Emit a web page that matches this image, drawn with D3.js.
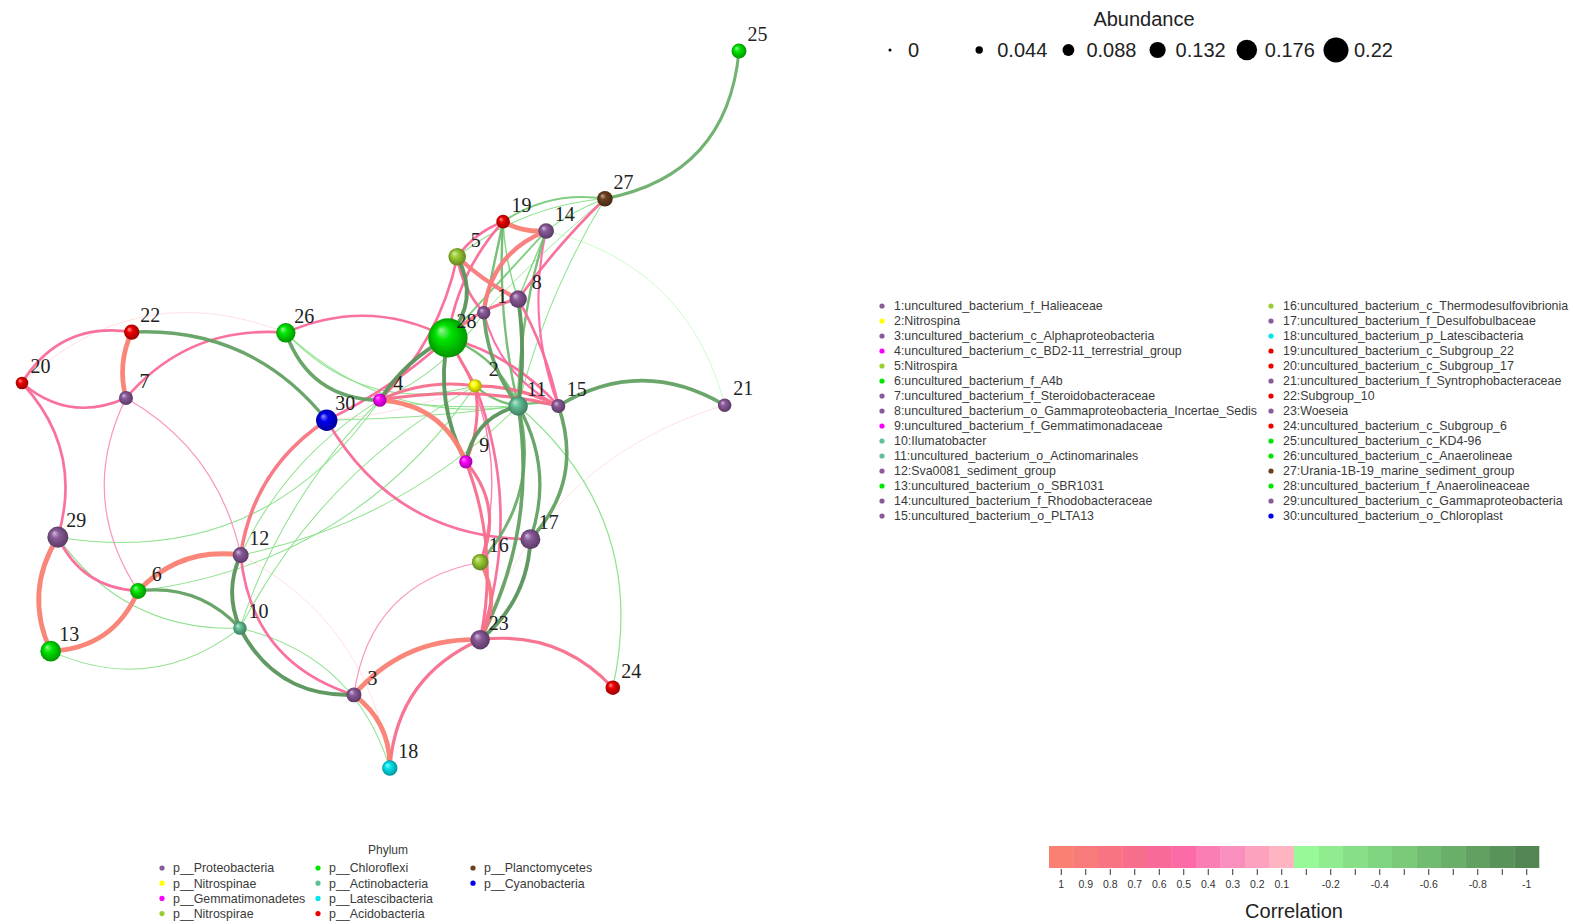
<!DOCTYPE html>
<html>
<head>
<meta charset="utf-8">
<script src="https://cdn.jsdelivr.net/npm/d3@7"></script>
<style>
  body { margin: 0; background: #fff; }
  svg { display: block; }
  text { font-family: "Liberation Sans", Arial, sans-serif; }
</style>
</head>
<body>
<svg id="chart" width="1573" height="924"></svg>
<script>
// ---- data -------------------------------------------------------------
const taxa = [
  "uncultured_bacterium_f_Halieaceae", "Nitrospina",
  "uncultured_bacterium_c_Alphaproteobacteria", "uncultured_bacterium_c_BD2-11_terrestrial_group",
  "Nitrospira", "uncultured_bacterium_f_A4b", "uncultured_bacterium_f_Steroidobacteraceae",
  "uncultured_bacterium_o_Gammaproteobacteria_Incertae_Sedis", "uncultured_bacterium_f_Gemmatimonadaceae",
  "Ilumatobacter", "uncultured_bacterium_o_Actinomarinales", "Sva0081_sediment_group",
  "uncultured_bacterium_o_SBR1031", "uncultured_bacterium_f_Rhodobacteraceae",
  "uncultured_bacterium_o_PLTA13", "uncultured_bacterium_c_Thermodesulfovibrionia",
  "uncultured_bacterium_f_Desulfobulbaceae", "uncultured_bacterium_p_Latescibacteria",
  "uncultured_bacterium_c_Subgroup_22", "uncultured_bacterium_c_Subgroup_17",
  "uncultured_bacterium_f_Syntrophobacteraceae", "Subgroup_10", "Woeseia",
  "uncultured_bacterium_c_Subgroup_6", "uncultured_bacterium_c_KD4-96",
  "uncultured_bacterium_c_Anaerolineae", "Urania-1B-19_marine_sediment_group",
  "uncultured_bacterium_f_Anaerolineaceae", "uncultured_bacterium_c_Gammaproteobacteria",
  "uncultured_bacterium_o_Chloroplast"
];

const phyla = [
  "p__Proteobacteria", "p__Nitrospinae", "p__Gemmatimonadetes", "p__Nitrospirae",
  "p__Chloroflexi", "p__Actinobacteria", "p__Latescibacteria", "p__Acidobacteria",
  "p__Planctomycetes", "p__Cyanobacteria"
];

// phylum index of taxa 1..30
const taxonPhylum = [0,1,0,2,3,4,0,0,2,5, 5,0,4,0,0,3,0,6,7,7, 0,7,0,7,4,4,8,4,0,9];

// relative abundance of taxa 1..30
const abundance = [
  0.018, 0.018, 0.030, 0.018, 0.050, 0.038, 0.023, 0.049, 0.018, 0.018,
  0.064, 0.038, 0.073, 0.035, 0.023, 0.042, 0.068, 0.033, 0.020, 0.012,
  0.018, 0.033, 0.064, 0.027, 0.030, 0.064, 0.035, 0.215, 0.076, 0.079
];

// network layout (unit square) of taxa 1..30
const layoutX = [
  0.644, 0.632, 0.463, 0.499, 0.607, 0.162, 0.145, 0.692, 0.619, 0.304,
  0.692, 0.305, 0.040, 0.731, 0.748, 0.639, 0.709, 0.513, 0.671, 0.000,
  0.980, 0.153, 0.639, 0.824, 1.000, 0.368, 0.813, 0.594, 0.050, 0.425
];
const layoutY = [
  0.365, 0.467, 0.898, 0.487, 0.287, 0.753, 0.484, 0.346, 0.573, 0.805,
  0.495, 0.703, 0.837, 0.251, 0.495, 0.713, 0.681, 1.000, 0.238, 0.463,
  0.494, 0.392, 0.821, 0.888, 0.000, 0.393, 0.206, 0.400, 0.678, 0.515
];

// correlations: [taxon a, taxon b, Spearman r]
const links = [
  [20,22,0.65],[20,7,0.65],[20,29,0.65],[20,26,0.12],[22,7,0.98],[22,30,-0.75],
  [7,26,0.65],[7,6,0.35],[7,12,0.35],[26,28,0.65],[26,4,-0.8],[26,2,-0.3],[26,11,-0.3],
  [30,12,0.8],[30,17,0.65],[30,28,0.65],[30,11,-0.3],[30,2,0.12],
  [29,13,0.98],[29,6,0.65],[29,10,-0.3],[29,4,-0.3],[13,6,0.98],[13,10,-0.3],
  [6,12,0.98],[6,10,-0.75],[6,2,-0.3],[12,10,-0.85],[12,3,0.65],[12,18,0.12],[12,11,-0.3],
  [10,3,-0.85],[10,18,-0.3],[10,4,-0.3],[3,18,0.98],[3,23,0.98],[18,23,0.75],[23,24,0.72],
  [16,23,0.85],[3,16,0.35],[17,23,-0.85],[15,17,-0.8],[11,23,-0.8],[11,17,-0.75],
  [11,16,-0.7],[11,24,-0.35],[23,21,0.12],[15,21,-0.8],[14,21,-0.15],
  [27,25,-0.7],[27,8,0.65],[27,11,-0.3],[27,14,-0.3],[19,27,-0.5],[5,27,-0.3],[27,1,-0.25],
  [19,14,0.98],[5,19,0.65],[14,1,0.92],[5,8,0.92],[5,28,-0.85],[5,1,0.65],[5,4,0.65],
  [19,28,0.65],[19,1,-0.6],[19,11,-0.6],[14,11,-0.6],[14,28,-0.5],[28,8,0.72],
  [1,11,-0.8],[8,11,-0.85],[8,15,0.65],[14,15,0.55],[1,15,0.55],[28,11,-0.6],
  [28,2,0.72],[28,9,-0.85],[28,4,-0.85],[28,15,0.65],[4,9,0.98],[4,2,0.72],[4,15,0.72],
  [4,11,-0.3],[4,1,-0.3],[2,9,0.72],[2,15,0.75],[2,11,-0.6],[9,11,-0.85],[9,16,0.72],
  [9,23,0.72],[2,23,0.65],[28,16,0.4],[4,12,-0.3],[15,11,-0.6],[19,8,-0.4],[14,8,-0.4],
  [2,10,-0.3]
];
// edge curvature (signed, fraction of edge length)
const linkBend = [
  -0.22,0.21,-0.19,-0.21,0.12,-0.17,
  -0.17,0.19,-0.15,-0.16,0.23,0.2,0.16,
  0.15,0.19,0.05,0.02,0.05,
  0.18,0.2,0.18,0.21,0.21,0.2,
  -0.17,-0.17,0.15,0.15,0.22,-0.17,0.1,
  0.21,-0.19,-0.08,-0.17,-0.16,-0.2,-0.17,
  -0.19,-0.24,-0.15,-0.2,-0.11,-0.15,
  -0.18,-0.2,-0.17,-0.2,-0.2,
  0.25,0.03,0.05,0.05,-0.13,-0.1,0.02,
  0.1,-0.1,0.2,0.05,-0.23,0.1,-0.1,
  0.1,0,0.05,0.05,0,-0.1,
  0.1,-0.05,-0.05,0.1,0.15,-0.15,
  0,0.12,0.09,-0.1,-0.21,-0.1,-0.07,
  0.03,0.1,-0.1,-0.08,0.1,-0.21,-0.21,
  -0.1,-0.12,-0.15,0.1,0.1,0.05,0,
  0.1
];

const sizeTicks = [0, 0.044, 0.088, 0.132, 0.176, 0.22];
const corrBins = [1,0.9,0.8,0.7,0.6,0.5,0.4,0.3,0.2,0.1,-0.1,-0.2,-0.3,-0.4,-0.5,-0.6,-0.7,-0.8,-0.9,-1];
const corrTickLabels = ["1","0.9","0.8","0.7","0.6","0.5","0.4","0.3","0.2","0.1",
                        "","-0.2","","-0.4","","-0.6","","-0.8","","-1"];

// ---- palette ----------------------------------------------------------
const phylumColors = ["#8a5a9a","#ffff00","#ff00ff","#9acd32","#00e600",
                      "#62c096","#00e5ee","#ee0000","#6b3f1f","#0000ee"];
const corrColors = ["#fa8072","#f97a7a","#f87482","#f76e8c","#f96a98",
                    "#fc6ba6","#fa7db3","#f98fbd","#fca2bf","#ffb4c2",
                    "#98f998","#8fec8f","#87e087","#80d580","#7aca7a",
                    "#72bc72","#6aae6a","#62a062","#5a935a","#538653"];

const corrIndex = r => r > 0
  ? Math.max(0, Math.min(9, Math.round((1 - r) * 10)))
  : 10 + Math.max(0, Math.min(9, Math.round((-r - 0.1) * 10)));

// ---- drawing ----------------------------------------------------------
const svg = d3.select("#chart");
const defs = svg.append("defs");

phylumColors.forEach((c, i) => {
  const g = defs.append("radialGradient").attr("id", "sphere" + i)
    .attr("cx", "50%").attr("cy", "50%").attr("r", "55%")
    .attr("fx", "32%").attr("fy", "30%");
  g.append("stop").attr("offset", "0%").attr("stop-color", d3.interpolateRgb(c, "#ffffff")(0.6));
  g.append("stop").attr("offset", "35%").attr("stop-color", c);
  g.append("stop").attr("offset", "100%").attr("stop-color", d3.color(c).darker(1.4));
});

const x = d3.scaleLinear().domain([0, 1]).range([22, 739]);
const y = d3.scaleLinear().domain([0, 1]).range([51, 768]);
const nodeR = d3.scaleLinear().domain([0, 0.22]).range([5.5, 20]);
const legendR = d3.scaleLinear().domain([0, 0.22]).range([1.5, 12.5]);
const edgeW = d3.scalePow().exponent(1.5).domain([0, 1]).range([0.25, 4.9]);

const nodes = taxa.map((name, i) => ({
  id: i + 1, name, phylum: taxonPhylum[i], abundance: abundance[i],
  x: x(layoutX[i]), y: y(layoutY[i])
}));

function linkPath(a, b, bend) {
  const dx = b.x - a.x, dy = b.y - a.y, L = Math.hypot(dx, dy);
  const nx = -dy / L, ny = dx / L, off = bend * L;
  const p = d3.path();
  p.moveTo(a.x, a.y);
  p.bezierCurveTo(a.x + dx / 3 + nx * off, a.y + dy / 3 + ny * off,
                  a.x + 2 * dx / 3 + nx * off, a.y + 2 * dy / 3 + ny * off,
                  b.x, b.y);
  return p.toString();
}

const edges = links.map((l, i) => ({ s: nodes[l[0] - 1], t: nodes[l[1] - 1], r: l[2], bend: linkBend[i] }))
  .sort((a, b) => Math.abs(a.r) - Math.abs(b.r));

const net = svg.append("g");
net.append("g").selectAll("path").data(edges).join("path")
  .attr("d", d => linkPath(d.s, d.t, d.bend))
  .attr("fill", "none")
  .attr("stroke", d => corrColors[corrIndex(d.r)])
  .attr("stroke-width", d => edgeW(Math.abs(d.r)))
  .attr("stroke-linecap", "round")
  .attr("stroke-opacity", 0.95);

net.append("g").selectAll("circle").data(nodes).join("circle")
  .attr("cx", d => d.x).attr("cy", d => d.y)
  .attr("r", d => nodeR(d.abundance))
  .attr("fill", d => `url(#sphere${d.phylum})`);

net.append("g").selectAll("text").data(nodes).join("text")
  .attr("x", d => d.x + 18.5).attr("y", d => d.y - 10)
  .attr("text-anchor", "middle")
  .style("font-family", "'Liberation Serif','DejaVu Serif',serif")
  .style("font-size", "20px").attr("fill", "#222")
  .text(d => d.id);

// abundance size legend
const aLeg = svg.append("g");
aLeg.append("text").attr("x", 1144).attr("y", 26).attr("text-anchor", "middle")
  .style("font-size", "20px").attr("fill", "#222").text("Abundance");
const ax = d3.scalePoint().domain(sizeTicks).range([890, 1336]);
const aItem = aLeg.selectAll("g.item").data(sizeTicks).join("g").attr("class", "item")
  .attr("transform", d => `translate(${ax(d)},50)`);
aItem.append("circle").attr("r", d => legendR(d)).attr("fill", "#000");
aItem.append("text").attr("x", 18).attr("y", 7).style("font-size", "20px").attr("fill", "#222")
  .text(d => d);

// taxa legend (two columns)
const tLeg = svg.append("g");
const tItem = tLeg.selectAll("g").data(nodes).join("g")
  .attr("transform", d => {
    const col = d.id > 15 ? 1 : 0, row = (d.id - 1) % 15;
    return `translate(${col ? 1271 : 882},${306 + row * 15})`;
  });
tItem.append("circle").attr("r", 2.6).attr("fill", d => phylumColors[d.phylum]);
tItem.append("text").attr("x", 12).attr("y", 4.3).style("font-size", "12.4px").attr("fill", "#3a3a3a")
  .text(d => `${d.id}:${d.name}`);

// phylum legend
const pLeg = svg.append("g");
pLeg.append("text").attr("x", 388).attr("y", 854).attr("text-anchor", "middle")
  .style("font-size", "12px").attr("fill", "#3a3a3a").text("Phylum");
const colX = [162, 318, 473];
const pItem = pLeg.selectAll("g.p").data(phyla).join("g").attr("class", "p")
  .attr("transform", (d, i) => `translate(${colX[Math.floor(i / 4)]},${868 + (i % 4) * 15.2})`);
pItem.append("circle").attr("r", 2.6).attr("fill", (d, i) => phylumColors[i]);
pItem.append("text").attr("x", 11).attr("y", 4.3).style("font-size", "12.4px").attr("fill", "#3a3a3a")
  .text(d => d);

// correlation colour bar
const cLeg = svg.append("g");
const cb = d3.scaleBand().domain(d3.range(corrBins.length)).range([1049, 1539]);
cLeg.selectAll("rect").data(corrBins).join("rect")
  .attr("x", (d, i) => cb(i)).attr("y", 846)
  .attr("width", cb.bandwidth() + 0.3).attr("height", 22)
  .attr("fill", d => corrColors[corrIndex(d)]);
const cAxis = d3.axisBottom(cb).tickSize(6).tickPadding(6)
  .tickFormat(i => corrTickLabels[i]);
const cAx = cLeg.append("g").attr("transform", "translate(0,869)").call(cAxis);
cAx.select(".domain").remove();
cAx.selectAll(".tick line").attr("stroke", "#333");
cAx.selectAll(".tick text").style("font-size", "10.5px").style("font-family", "'Liberation Sans',Arial,sans-serif").attr("fill", "#333");
cLeg.append("text").attr("x", 1294).attr("y", 918).attr("text-anchor", "middle")
  .style("font-size", "20px").attr("fill", "#222").text("Correlation");
</script>
</body>
</html>
